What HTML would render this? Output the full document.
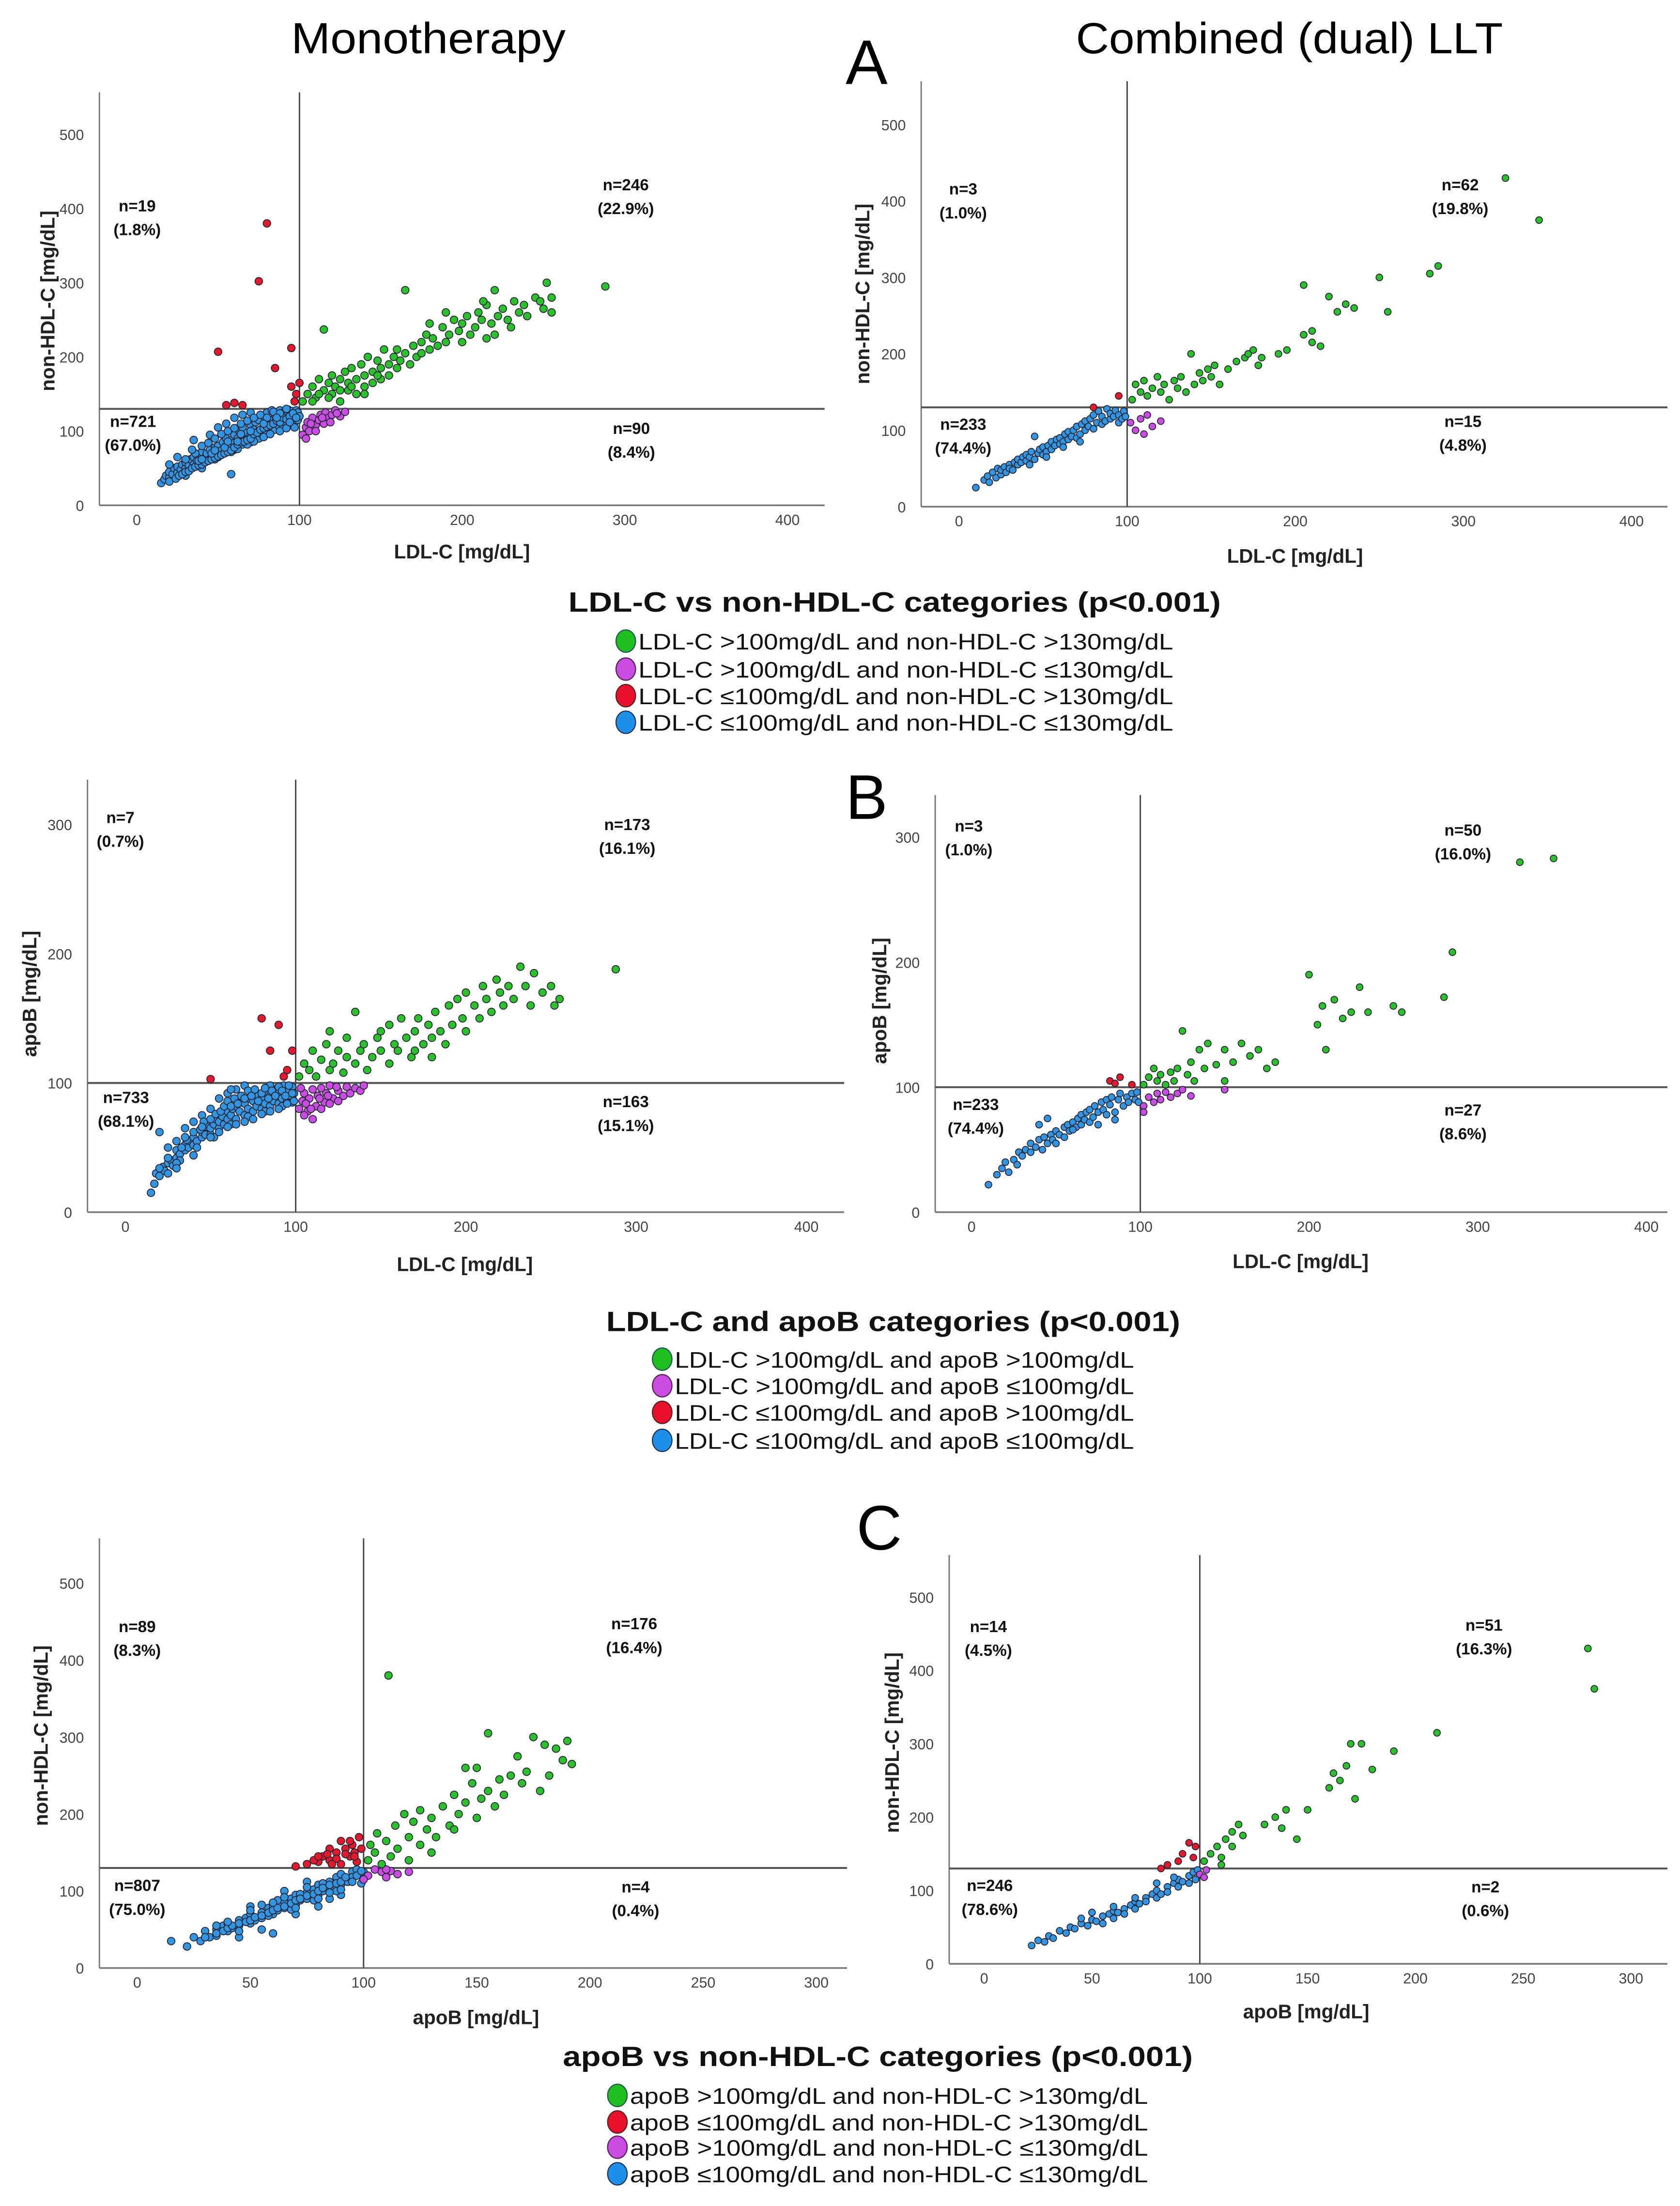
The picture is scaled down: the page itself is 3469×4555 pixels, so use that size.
<!DOCTYPE html>
<html><head><meta charset="utf-8"><title>LDL-C, non-HDL-C and apoB scatter plots</title>
<style>
html,body{margin:0;padding:0;background:#fff;}
svg{display:block;}
text{font-family:"Liberation Sans",sans-serif;}
.tk{font-size:10.5px;fill:#444;}
.ann{font-size:11.5px;font-weight:bold;fill:#111;}
.axt{font-size:14px;font-weight:bold;fill:#222;}
.lg{font-family:"Liberation Sans Narrow","Liberation Sans",sans-serif;font-size:16px;fill:#111;}
.lgt{font-family:"Liberation Sans Narrow","Liberation Sans",sans-serif;font-size:20px;font-weight:bold;fill:#111;}
.big{font-family:"Liberation Sans Narrow","Liberation Sans",sans-serif;font-size:31px;fill:#000;}
</style></head>
<body>
<svg id="fig" width="3469" height="4555" viewBox="0 0 1200 1576" preserveAspectRatio="none" xmlns="http://www.w3.org/2000/svg">
<rect width="1200" height="1576" fill="#fff"/>
<text class="big" x="306" y="38" text-anchor="middle" textLength="196" lengthAdjust="spacingAndGlyphs">Monotherapy</text>
<text class="big" x="921" y="38" text-anchor="middle" textLength="305" lengthAdjust="spacingAndGlyphs">Combined (dual) LLT</text>
<text class="big" x="619" y="60" text-anchor="middle" style="font-size:45px">A</text>
<text class="big" x="619" y="585" text-anchor="middle" style="font-size:45px">B</text>
<text class="big" x="628" y="1107" text-anchor="middle" style="font-size:45px">C</text>

<g>
<text class="lgt" x="639" y="437" text-anchor="middle" textLength="466" lengthAdjust="spacingAndGlyphs">LDL-C vs non-HDL-C categories (p&lt;0.001)</text>
<ellipse cx="447" cy="458" rx="7" ry="8" fill="#1fbf1f" stroke="#255" stroke-width="0.8"/>
<text class="lg" x="456" y="464" textLength="382" lengthAdjust="spacingAndGlyphs">LDL-C &gt;100mg/dL and non-HDL-C &gt;130mg/dL</text>
<ellipse cx="447" cy="478" rx="7" ry="8" fill="#c94de0" stroke="#525" stroke-width="0.8"/>
<text class="lg" x="456" y="484" textLength="382" lengthAdjust="spacingAndGlyphs">LDL-C &gt;100mg/dL and non-HDL-C ≤130mg/dL</text>
<ellipse cx="447" cy="497" rx="7" ry="8" fill="#e8102a" stroke="#522" stroke-width="0.8"/>
<text class="lg" x="456" y="503" textLength="382" lengthAdjust="spacingAndGlyphs">LDL-C ≤100mg/dL and non-HDL-C &gt;130mg/dL</text>
<ellipse cx="447" cy="516" rx="7" ry="8" fill="#1e90e8" stroke="#235" stroke-width="0.8"/>
<text class="lg" x="456" y="522" textLength="382" lengthAdjust="spacingAndGlyphs">LDL-C ≤100mg/dL and non-HDL-C ≤130mg/dL</text>
</g>
<g>
<text class="lgt" x="638" y="951" text-anchor="middle" textLength="410" lengthAdjust="spacingAndGlyphs">LDL-C and apoB categories (p&lt;0.001)</text>
<ellipse cx="473" cy="971" rx="7" ry="8" fill="#1fbf1f" stroke="#255" stroke-width="0.8"/>
<text class="lg" x="482" y="977" textLength="328" lengthAdjust="spacingAndGlyphs">LDL-C &gt;100mg/dL and apoB &gt;100mg/dL</text>
<ellipse cx="473" cy="990" rx="7" ry="8" fill="#c94de0" stroke="#525" stroke-width="0.8"/>
<text class="lg" x="482" y="996" textLength="328" lengthAdjust="spacingAndGlyphs">LDL-C &gt;100mg/dL and apoB ≤100mg/dL</text>
<ellipse cx="473" cy="1009" rx="7" ry="8" fill="#e8102a" stroke="#522" stroke-width="0.8"/>
<text class="lg" x="482" y="1015" textLength="328" lengthAdjust="spacingAndGlyphs">LDL-C ≤100mg/dL and apoB &gt;100mg/dL</text>
<ellipse cx="473" cy="1029" rx="7" ry="8" fill="#1e90e8" stroke="#235" stroke-width="0.8"/>
<text class="lg" x="482" y="1035" textLength="328" lengthAdjust="spacingAndGlyphs">LDL-C ≤100mg/dL and apoB ≤100mg/dL</text>
</g>
<g>
<text class="lgt" x="627" y="1476" text-anchor="middle" textLength="450" lengthAdjust="spacingAndGlyphs">apoB vs non-HDL-C categories (p&lt;0.001)</text>
<ellipse cx="441" cy="1497" rx="7" ry="8" fill="#1fbf1f" stroke="#255" stroke-width="0.8"/>
<text class="lg" x="450" y="1503" textLength="370" lengthAdjust="spacingAndGlyphs">apoB &gt;100mg/dL and non-HDL-C &gt;130mg/dL</text>
<ellipse cx="441" cy="1516" rx="7" ry="8" fill="#e8102a" stroke="#522" stroke-width="0.8"/>
<text class="lg" x="450" y="1522" textLength="370" lengthAdjust="spacingAndGlyphs">apoB ≤100mg/dL and non-HDL-C &gt;130mg/dL</text>
<ellipse cx="441" cy="1534" rx="7" ry="8" fill="#c94de0" stroke="#525" stroke-width="0.8"/>
<text class="lg" x="450" y="1540" textLength="370" lengthAdjust="spacingAndGlyphs">apoB &gt;100mg/dL and non-HDL-C ≤130mg/dL</text>
<ellipse cx="441" cy="1553" rx="7" ry="8" fill="#1e90e8" stroke="#235" stroke-width="0.8"/>
<text class="lg" x="450" y="1559" textLength="370" lengthAdjust="spacingAndGlyphs">apoB ≤100mg/dL and non-HDL-C ≤130mg/dL</text>
</g>
</svg>
<script>
const COLORS = {green:'#2cc02c', purple:'#c94de0', red:'#e21a2c', blue:'#3394e0'};
const ldlTicks = [0,100,200,300,400];
const nonHdlTicks = [0,100,200,300,400,500];
const apoBTicksY = [0,100,200,300];
const apoBTicksX = [0,50,100,150,200,250,300];

// Panel A mono: LDL-C vs non-HDL-C
const A1_blue = [15,30,17,35,18,40,20,38,20,45,22,42,23,50,25,44,25,52,27,48,28,55,30,50,30,58,32,54,33,62,35,55,35,65,37,60,38,68,40,58,40,66,40,72,42,64,43,70,45,62,45,75,47,68,48,78,50,70,50,80,50,65,52,74,53,85,55,72,55,80,55,90,57,78,58,88,60,75,60,84,60,95,62,80,62,90,63,100,65,82,65,92,65,105,67,88,68,98,70,85,70,95,70,108,72,92,72,102,73,112,75,90,75,100,75,115,77,96,78,106,78,120,80,98,80,110,80,125,82,104,82,115,83,128,85,102,85,112,85,122,87,108,88,118,88,128,90,106,90,115,90,125,92,110,92,120,93,129,95,108,95,118,95,127,97,112,97,122,98,128,99,115,99,125,45,95,35,88,50,105,55,110,60,118,65,122,70,125,25,65,20,55,58,42,30,40,40,50,100,120,42,58,48,62,52,68,58,72,62,76,68,82,72,86,78,92,82,96,88,100,92,104,97,105,
 20,32,24,36,26,40,28,42,30,45,32,46,34,50,36,52,38,54,40,55,42,58,44,60,46,62,48,64,50,66,52,68,54,70,56,72,58,74,60,78,62,82,64,85,66,86,68,88,70,90,72,96,74,98,76,102,78,104,80,106,82,108,84,110,86,114,88,112,90,118,92,116,94,120,96,124,98,118,36,70,40,80,44,84,48,90,52,96,56,100,60,104,64,110,68,114,72,118,76,122,80,118,84,126,88,124,92,130,30,62,34,75,38,60,46,70,54,78,62,86,70,100,78,110,86,118,94,112,64,96,56,86,48,74,40,62];
const A1_purple = [102,95,104,105,105,112,106,100,108,118,110,108,112,115,113,122,115,110,116,125,118,118,120,122,122,128,125,120,128,126,104,90,110,100,107,110,114,118,119,112,123,124];
const A1_red = [80,380,75,302,50,207,95,212,85,185,60,138,65,135,95,160,98,150,97,140,100,165,55,135];
const A1_green = [102,140,105,150,108,160,110,145,112,170,115,155,115,237,118,165,120,150,120,175,122,160,125,170,125,140,128,180,130,155,130,165,132,185,135,170,135,150,138,190,140,175,140,160,142,200,145,180,145,165,148,195,150,185,150,170,152,210,155,190,155,175,158,200,160,185,160,210,162,195,165,290,165,205,168,190,170,215,172,200,175,220,175,205,178,230,180,210,182,225,185,215,188,240,190,220,192,230,195,250,198,235,200,220,200,245,203,255,205,230,208,240,210,260,212,250,215,225,215,270,218,245,220,290,220,230,222,255,225,265,228,250,230,240,232,275,235,260,238,270,240,255,245,280,248,275,250,265,252,300,255,260,255,280,288,295,213,275,190,260,180,245,108,140,112,150,118,145,125,155,132,160,140,150,148,175];
// Panel A combined
const A2_blue = [10,25,15,35,17,40,18,32,20,45,22,38,23,50,25,42,25,48,27,52,28,45,30,55,30,50,32,48,33,58,35,55,35,62,37,58,38,65,40,60,40,68,42,65,43,72,45,62,45,92,47,70,48,75,50,68,50,78,52,72,53,80,55,75,55,85,57,80,58,88,60,82,60,90,62,85,63,95,65,88,65,98,67,92,68,100,70,90,70,105,72,95,73,108,75,100,75,112,77,105,78,115,80,102,80,120,82,110,83,125,85,108,85,118,87,112,88,128,90,115,90,122,92,118,93,126,95,110,95,120,97,115,98,125,99,118,72,85,62,78,52,65,42,55];
const A2_purple = [102,110,105,100,108,115,110,95,112,120,115,105,120,112];
const A2_red = [80,130,95,145];
const A2_green = [103,140,105,160,108,150,110,165,112,145,115,155,118,170,120,150,122,160,125,140,128,165,130,155,132,170,135,150,138,200,140,160,143,175,145,165,148,180,150,170,152,185,155,160,160,180,165,190,170,195,172,200,175,205,178,185,180,195,190,200,195,205,205,290,205,225,210,215,210,230,215,210,220,275,225,255,230,265,235,260,250,300,255,255,280,305,285,315,325,430,345,375];
// Panel B mono: LDL-C vs apoB
const B1_blue = [15,15,17,22,18,30,20,28,22,35,23,32,25,38,27,40,28,36,30,42,30,48,32,45,35,48,35,52,37,50,38,55,40,52,40,58,42,55,45,58,45,62,47,60,48,66,50,60,50,65,52,68,53,72,55,65,55,70,57,74,58,68,60,72,60,78,62,75,63,80,65,72,65,82,67,78,68,85,70,75,70,84,72,80,73,88,75,78,75,86,77,82,78,90,80,80,80,88,82,84,83,92,85,82,85,90,87,86,88,95,90,84,90,92,92,88,93,98,95,86,95,94,97,90,98,97,99,92,40,70,50,80,55,88,60,92,65,95,70,98,20,62,30,55,45,75,35,65,25,50,85,98,32,40,42,50,52,58,62,68,72,74,82,78,92,82,98,85,
 20,34,25,42,30,38,33,50,36,56,40,62,44,64,46,70,50,72,53,76,56,78,58,82,60,86,62,82,64,88,66,84,68,90,70,88,72,94,74,90,76,95,78,86,80,92,82,96,84,88,86,94,88,90,90,97,92,94,94,90,96,98,98,92,45,66,50,58,55,62,60,66,65,68,70,70,75,72,80,76,85,78,90,80,95,84,99,86,35,58,40,44,30,34,25,30,62,95];
const B1_purple = [102,80,104,86,105,92,107,78,108,88,110,95,112,82,113,90,115,96,117,85,118,92,120,98,122,88,125,94,128,90,130,97,132,92,135,96,138,94,140,98,105,75,110,72,115,80,120,84,125,86,103,96,106,84,109,80,114,88,119,90,124,97];
const B1_red = [80,150,90,145,85,125,98,125,50,103,95,110,93,105];
const B1_green = [102,105,105,115,108,110,110,125,112,105,115,118,118,130,120,110,120,140,122,115,125,125,128,108,130,120,130,135,135,155,135,115,138,125,140,130,142,110,145,120,148,135,150,125,150,140,155,115,155,145,158,130,160,125,162,150,165,135,168,120,170,140,172,150,175,130,178,145,180,135,182,155,185,140,188,130,190,160,192,145,195,165,198,150,200,140,200,170,205,160,208,150,210,175,212,165,215,155,218,180,220,170,222,160,225,175,228,165,232,190,235,175,238,160,240,185,245,170,250,175,252,160,255,165,288,188,180,120,170,125];
// Panel B combined
const B2_blue = [10,22,15,30,18,35,20,40,22,32,25,42,27,38,28,48,30,45,32,50,35,48,35,55,38,52,40,58,42,50,43,60,45,55,47,62,48,58,50,65,50,55,52,62,55,68,55,60,57,70,58,65,60,72,62,68,63,75,65,70,65,78,67,74,68,80,70,72,70,82,72,76,73,85,75,80,77,88,78,82,80,90,80,78,82,86,83,92,85,80,87,90,88,95,90,85,92,92,93,88,95,95,97,90,98,96,99,88,45,75,40,70,60,66,75,70,85,74];
const B2_purple = [102,85,105,92,108,88,110,95,112,90,115,96,118,92,122,95,125,98,130,93,150,98,102,80];
const B2_red = [82,105,88,108,95,102,85,103];
const B2_green = [102,102,105,108,108,115,110,105,112,110,115,102,118,112,120,105,122,115,125,145,128,110,130,120,132,105,135,130,138,115,140,135,145,118,150,105,150,130,155,120,160,135,165,125,170,130,175,115,180,120,200,190,205,150,208,165,210,130,215,170,220,155,225,160,230,180,235,160,250,165,255,160,280,172,285,208,325,280,345,283];
// Panel C mono: apoB vs non-HDL-C
const C1_blue = [15,35,22,28,25,40,28,35,30,48,32,40,35,50,35,42,38,55,40,48,40,58,42,52,45,62,45,55,48,65,50,58,50,70,52,62,55,72,55,65,58,78,60,70,60,80,62,75,65,85,65,78,68,90,70,82,70,95,72,88,75,98,75,90,78,102,80,95,80,108,82,100,85,112,85,104,88,118,90,108,90,122,92,114,95,125,95,118,97,128,99,120,99,110,60,45,45,40,55,50,70,70,80,80,90,95,85,90,65,100,75,112,50,80,100,125,58,68,68,76,78,88,88,100,93,112,72,96,62,88,82,110,
 30,40,35,45,38,48,40,52,42,55,45,58,48,60,50,62,52,66,55,68,58,72,60,75,62,78,65,80,68,84,70,88,72,90,75,94,78,96,80,100,82,104,85,108,88,110,90,112,92,118,95,112,97,120,99,126,40,60,50,75,60,85,70,78,80,90,90,102,55,82,65,92,75,105,85,98,45,48,35,55];
const C1_red = [70,132,75,135,80,138,82,145,85,140,88,150,90,135,92,155,94,145,95,160,97,138,98,170,85,155,90,165,78,140,96,150,80,145,84,148,88,142,92,148,96,145,99,155,94,165,86,135];
const C1_purple = [102,120,105,128,108,125,110,118,112,126,115,122,120,125,100,115,110,128];
const C1_green = [102,140,103,160,105,150,106,175,108,135,110,165,111,380,112,145,114,185,115,155,118,200,120,170,120,140,122,190,125,160,125,205,128,180,130,195,132,170,135,210,138,185,140,225,142,200,145,215,148,240,150,195,150,260,152,220,155,305,155,230,158,210,160,245,162,225,165,250,168,275,170,240,172,255,175,300,178,230,180,290,182,250,185,285,188,270,190,295,192,265,140,180,130,150,145,260];
// Panel C combined
const C2_blue = [22,25,25,32,28,30,30,38,32,35,35,45,38,42,40,50,42,48,45,55,48,52,50,60,52,58,55,65,55,55,58,68,60,62,60,72,62,70,65,75,65,68,68,80,70,75,70,85,72,82,75,90,75,85,78,95,80,90,80,100,82,95,85,105,85,98,88,110,90,105,90,115,92,112,95,120,95,110,97,125,98,115,99,128,50,70,45,62,60,78,70,90,80,110,88,118];
const C2_red = [82,130,85,135,90,140,92,150,95,165,98,160,97,145];
const C2_purple = [100,122,103,128,102,118];
const C2_green = [102,140,105,150,108,160,110,145,112,170,115,180,118,190,120,175,115,160,110,135,130,190,135,200,140,210,138,185,145,170,150,210,160,240,162,260,165,250,168,270,170,300,172,225,175,300,180,265,190,290,210,315,280,430,283,375];

const NS='http://www.w3.org/2000/svg';
const svg=document.getElementById('fig');
function mk(tag,attrs,name,parent){
  const el=document.createElementNS(NS,tag);
  for(const k in attrs) el.setAttribute(k,attrs[k]);
  
  
  (parent||svg).appendChild(el);
  return el;
}
function panel(id,c,series,xticks,yticks,xTitle,yTitle,ann){
  const g=mk('g',{},id);
  const sx=v=>c.x0+v*c.xs, sy=v=>c.y0-v*c.ys;
  mk('line',{x1:c.left,y1:c.top,x2:c.left,y2:c.y0,stroke:'#777','stroke-width':1},'y-axis-line',g);
  mk('line',{x1:c.left,y1:c.y0,x2:c.right,y2:c.y0,stroke:'#777','stroke-width':1.2},'x-axis-line',g);
  xticks.forEach(t=>{const e=mk('text',{x:sx(t),y:c.y0+14,'text-anchor':'middle',class:'tk'},'x-tick-label',g);e.textContent=t;});
  yticks.forEach(t=>{const e=mk('text',{x:c.left-11,y:sy(t)+4,'text-anchor':'end',class:'tk'},'y-tick-label',g);e.textContent=t;});
  mk('line',{x1:sx(c.vx),y1:c.top,x2:sx(c.vx),y2:c.y0,stroke:'#444','stroke-width':1},'vertical-threshold-line',g);
  mk('line',{x1:c.left,y1:sy(c.hy),x2:c.right,y2:sy(c.hy),stroke:'#555','stroke-width':1.4},'horizontal-threshold-line',g);
  series.forEach(s=>{
    for(let i=0;i<s.data.length;i+=2){
      mk('circle',{cx:sx(s.data[i]),cy:sy(s.data[i+1]),r:c.r,fill:COLORS[s.color],stroke:'#223','stroke-width':0.6},'point-'+s.color,g);
    }
  });
  const xt=mk('text',{x:c.xtx,y:c.xty,'text-anchor':'middle',class:'axt'},'x-axis-title',g);xt.textContent=xTitle;
  const yt=mk('text',{x:0,y:0,'text-anchor':'middle',class:'axt',transform:`translate(${c.ytx},${c.yty}) rotate(-90)`},'y-axis-title',g);yt.textContent=yTitle;
  ann.forEach(a=>{
    const t1=mk('text',{x:a[0],y:a[1]+4,'text-anchor':'middle',class:'ann'},'quadrant-count',g);t1.textContent=a[2];
    const t2=mk('text',{x:a[0],y:a[1]+21,'text-anchor':'middle',class:'ann'},'quadrant-percent',g);t2.textContent=a[3];
  });
}
const nh='non-HDL-C [mg/dL]', ldl='LDL-C [mg/dL]', apo='apoB [mg/dL]';
panel('panel-a-mono',{x0:97.7,xs:1.162,y0:361,ys:0.53,left:71,right:589,top:66,vx:100,hy:130,xtx:330,xty:399,ytx:39,yty:215,r:2.7},
 [{data:A1_blue,color:'blue'},{data:A1_purple,color:'purple'},{data:A1_red,color:'red'},{data:A1_green,color:'green'}],
 ldlTicks,nonHdlTicks,ldl,nh,[[98,147,'n=19','(1.8%)'],[447,132,'n=246','(22.9%)'],[95,301,'n=721','(67.0%)'],[451,306,'n=90','(8.4%)']]);
panel('panel-a-combined',{x0:685,xs:1.201,y0:362,ys:0.546,left:658,right:1191,top:58,vx:100,hy:130,xtx:925,xty:402,ytx:621,yty:210,r:2.4},
 [{data:A2_blue,color:'blue'},{data:A2_purple,color:'purple'},{data:A2_red,color:'red'},{data:A2_green,color:'green'}],
 ldlTicks,nonHdlTicks,ldl,nh,[[688,135,'n=3','(1.0%)'],[1043,132,'n=62','(19.8%)'],[688,303,'n=233','(74.4%)'],[1045,301,'n=15','(4.8%)']]);
panel('panel-b-mono',{x0:89.6,xs:1.216,y0:866,ys:0.923,left:62.5,right:603,top:557,vx:100,hy:100,xtx:332,xty:908,ytx:26,yty:710,r:2.7},
 [{data:B1_blue,color:'blue'},{data:B1_purple,color:'purple'},{data:B1_red,color:'red'},{data:B1_green,color:'green'}],
 ldlTicks,apoBTicksY,ldl,'apoB [mg/dL]',[[86,584,'n=7','(0.7%)'],[448,589,'n=173','(16.1%)'],[90,784,'n=733','(68.1%)'],[447,787,'n=163','(15.1%)']]);
panel('panel-b-combined',{x0:694,xs:1.205,y0:866,ys:0.893,left:668,right:1191,top:568,vx:100,hy:100,xtx:929,xty:906,ytx:633,yty:715,r:2.4},
 [{data:B2_blue,color:'blue'},{data:B2_purple,color:'purple'},{data:B2_red,color:'red'},{data:B2_green,color:'green'}],
 ldlTicks,apoBTicksY,ldl,'apoB [mg/dL]',[[692,590,'n=3','(1.0%)'],[1045,593,'n=50','(16.0%)'],[697,789,'n=233','(74.4%)'],[1045,793,'n=27','(8.6%)']]);
panel('panel-c-mono',{x0:98,xs:1.617,y0:1406,ys:0.55,left:71,right:605,top:1099,vx:100,hy:130,xtx:340,xty:1446,ytx:34,yty:1240,r:2.7},
 [{data:C1_blue,color:'blue'},{data:C1_purple,color:'purple'},{data:C1_red,color:'red'},{data:C1_green,color:'green'}],
 apoBTicksX,nonHdlTicks,apo,nh,[[98,1162,'n=89','(8.3%)'],[453,1160,'n=176','(16.4%)'],[98,1347,'n=807','(75.0%)'],[454,1348,'n=4','(0.4%)']]);
panel('panel-c-combined',{x0:703,xs:1.54,y0:1403,ys:0.524,left:678,right:1191,top:1111,vx:100,hy:130,xtx:933,xty:1442,ytx:642,yty:1245,r:2.4},
 [{data:C2_blue,color:'blue'},{data:C2_purple,color:'purple'},{data:C2_red,color:'red'},{data:C2_green,color:'green'}],
 apoBTicksX,nonHdlTicks,apo,nh,[[706,1162,'n=14','(4.5%)'],[1060,1161,'n=51','(16.3%)'],[707,1347,'n=246','(78.6%)'],[1061,1348,'n=2','(0.6%)']]);
</script>
</body></html>
